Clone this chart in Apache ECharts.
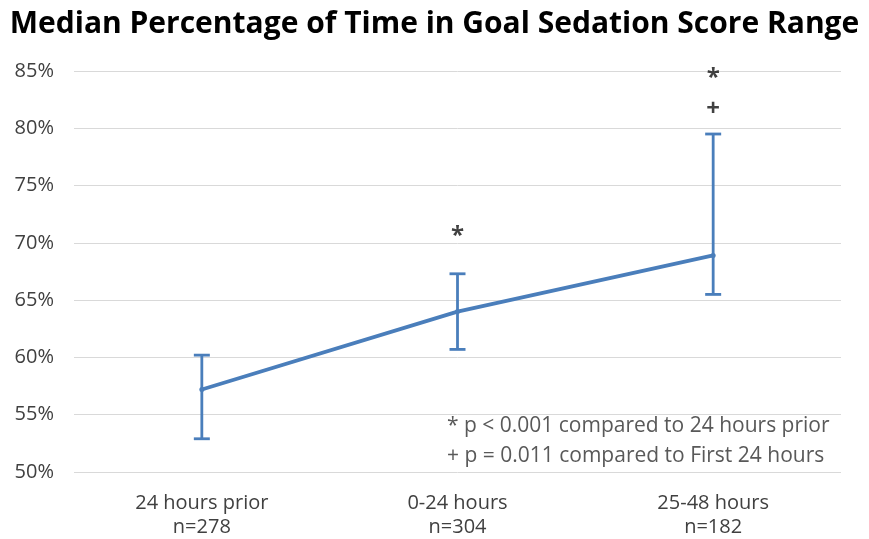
<!DOCTYPE html>
<html>
<head>
<meta charset="utf-8">
<script src="https://cdn.jsdelivr.net/npm/echarts@6/dist/echarts.min.js"></script>
<style>
  html, body { margin: 0; padding: 0; background: #fff; }
  #chart { width: 869px; height: 539px; }
</style>
</head>
<body>
<div id="chart"></div>
<script>
// Time in goal sedation score range, by period
const categories = ['24 hours prior\nn=278', '0-24 hours\nn=304', '25-48 hours\nn=182'];
const medians = [57.2, 64.0, 68.9];
const lowerBounds = [52.9, 60.7, 65.5];
const upperBounds = [60.2, 67.3, 79.5];

// Significance markers: [category index, y position (%), symbol]
const sigMarks = [
  [1, 70.6, '*'],
  [2, 84.4, '*'],
  [2, 81.7, '+']
];

const footnotes = [
  '* p < 0.001 compared to 24 hours prior',
  '+ p = 0.011 compared to First 24 hours'
];

const yTicks = { min: 50, max: 85, interval: 5 };

const FONT = '"Open Sans", sans-serif';
const BLUE = '#4a7ebb';
const GREY = '#595959';

const chart = echarts.init(document.getElementById('chart'), null, { renderer: 'canvas' });

const errorData = categories.map((c, i) => [i, lowerBounds[i], upperBounds[i]]);

chart.setOption({
  animation: false,
  title: {
    text: 'Median Percentage of Time in Goal Sedation Score Range',
    left: 'center',
    top: 4,
    textStyle: { fontFamily: FONT, fontWeight: 'bold', fontSize: 30, color: '#000' }
  },
  grid: { left: 74, right: 28, top: 71, bottom: 67 },
  xAxis: {
    type: 'category',
    data: categories,
    boundaryGap: true,
    axisLine: { show: false },
    axisTick: { show: false },
    axisLabel: {
      fontFamily: FONT, fontSize: 20, color: '#404040', lineHeight: 24, margin: 19
    }
  },
  yAxis: {
    type: 'value',
    min: yTicks.min,
    max: yTicks.max,
    interval: yTicks.interval,
    axisLine: { show: false },
    axisTick: { show: false },
    splitLine: { lineStyle: { color: '#d9d9d9', width: 1 } },
    axisLabel: {
      fontFamily: FONT, fontSize: 20, color: '#404040', margin: 20,
      formatter: v => v + '%'
    }
  },
  series: [
    {
      type: 'line',
      data: medians,
      symbol: 'circle',
      symbolSize: 5,
      lineStyle: { color: BLUE, width: 3.8 },
      itemStyle: { color: BLUE },
      z: 3
    },
    {
      type: 'custom',
      data: errorData,
      z: 4,
      renderItem: (params, api) => {
        const x = api.value(0);
        const lo = api.coord([x, api.value(1)]);
        const hi = api.coord([x, api.value(2)]);
        const half = 8;
        const style = { stroke: BLUE, lineWidth: 2.8 };
        return {
          type: 'group',
          children: [
            { type: 'line', shape: { x1: lo[0], y1: lo[1], x2: hi[0], y2: hi[1] }, style },
            { type: 'line', shape: { x1: hi[0] - half, y1: hi[1], x2: hi[0] + half, y2: hi[1] }, style },
            { type: 'line', shape: { x1: lo[0] - half, y1: lo[1], x2: lo[0] + half, y2: lo[1] }, style }
          ]
        };
      }
    },
    {
      type: 'scatter',
      data: sigMarks.map(m => ({ value: [m[0], m[1]], name: m[2] })),
      symbolSize: 0,
      label: {
        show: true,
        position: 'inside',
        formatter: p => p.name,
        fontFamily: FONT,
        fontWeight: 'bold',
        fontSize: 24,
        color: '#111'
      },
      z: 5
    }
  ],
  graphic: footnotes.map((t, i) => ({
    type: 'text',
    left: 447,
    top: 416 + i * 30,
    style: { text: t, fontFamily: FONT, fontSize: 21, fill: GREY }
  }))
});
</script>
</body>
</html>
